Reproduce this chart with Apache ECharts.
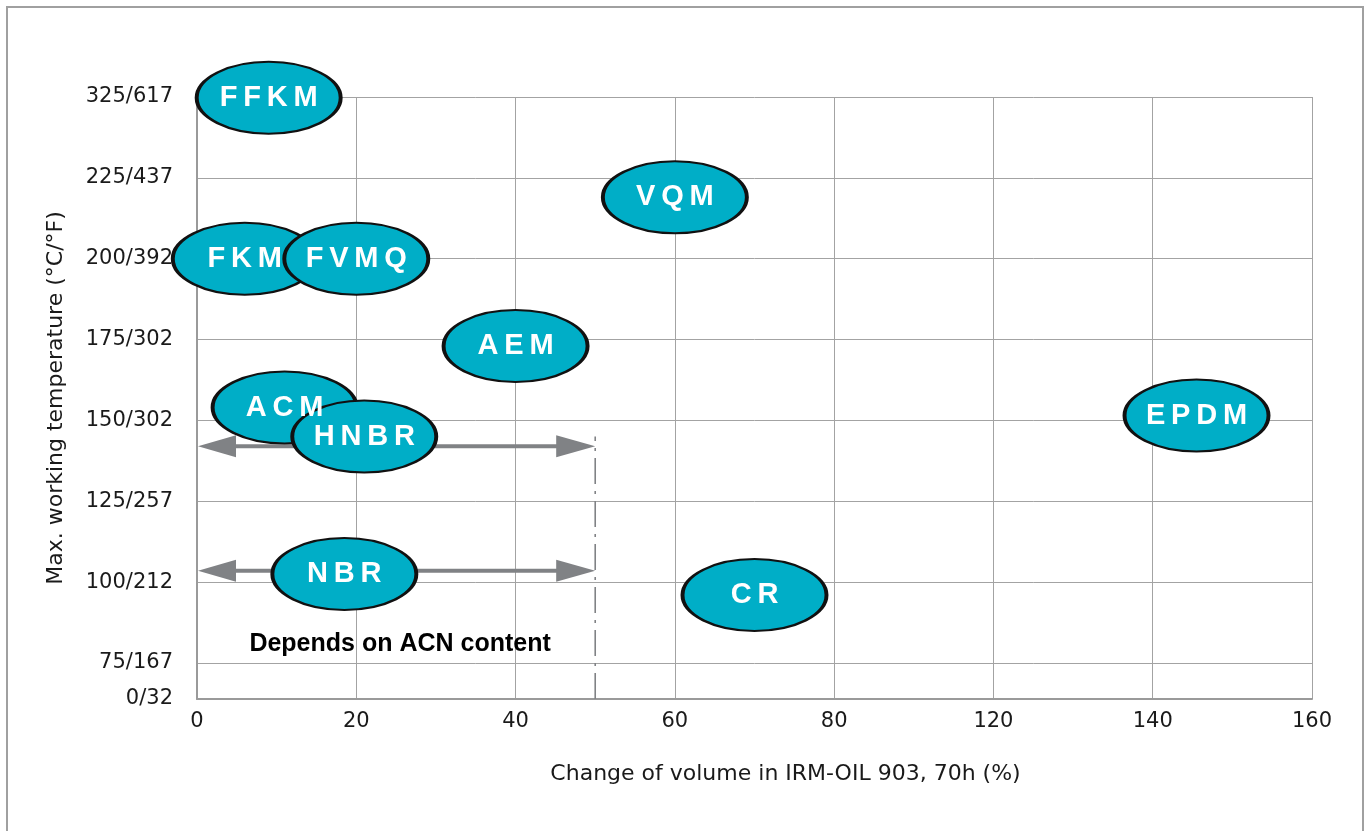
<!DOCTYPE html>
<html><head><meta charset="utf-8">
<script src="https://cdn.jsdelivr.net/npm/echarts@6/dist/echarts.min.js"></script>
<style>html,body{margin:0;padding:0;background:#fff}#c{width:1370px;height:831px}</style>
</head><body><div id="c"></div>
<script>
// ---- data ----
const xTickValues = [0, 20, 40, 60, 80, 120, 140, 160];
const xTickLabels = ['0', '20', '40', '60', '80', '120', '140', '160'];
const yTickValues = [0, 75, 100, 125, 150, 175, 200, 225, 325];
const yTickLabels = ['0/32', '75/167', '100/212', '125/257', '150/302', '175/302', '200/392', '225/437', '325/617'];

const materials    = ['FFKM', 'VQM', 'FKM', 'FVMQ', 'AEM', 'ACM', 'HNBR', 'NBR', 'CR', 'EPDM'];
const volumeChange = [9, 60, 6, 20, 40, 11, 21, 18.5, 70, 145.5];
const maxTemp      = [324, 219, 200, 200, 173, 154, 145, 102.5, 96, 151.5];

const rangeFrom = [0, 0];
const rangeTo   = [50, 50];
const rangeTemp = [142, 103.5];
const acnLimitVolume = 50;
const acnLimitTop = 145;
const noteText = 'Depends on ACN content';
const noteVolume = 25.5;
const noteTemp = 81;
const xAxisTitle = 'Change of volume in IRM-OIL 903, 70h (%)';
const yAxisTitle = 'Max. working temperature (°C/°F)';

// ---- broken (piecewise) scales ----
const Y_MIN = -0.445;
const xPos = xTickValues.map((_, i) => i);
const yPos = yTickValues.map((_, i) => i === 0 ? Y_MIN : i - 1);
function piece(v, vals, pos) {
  for (let i = 0; i < vals.length - 1; i++) {
    if (v <= vals[i + 1] || i === vals.length - 2) {
      return pos[i] + (v - vals[i]) / (vals[i + 1] - vals[i]) * (pos[i + 1] - pos[i]);
    }
  }
  return pos[pos.length - 1];
}
const toX = v => piece(v, xTickValues, xPos);
const toY = v => piece(v, yTickValues, yPos);
function lab(v, pos, labels) {
  const i = pos.findIndex(p => Math.abs(p - v) < 1e-6);
  return i >= 0 ? labels[i] : '';
}

const FONT = "'Liberation Sans', Arial, sans-serif";
const TFONT = "'DejaVu Sans', 'Liberation Sans', sans-serif";
const GRID = '#a3a3a3';
const AXIS = '#9a9a9a';
const ARROW = '#808285';

const chart = echarts.init(document.getElementById('c'), null, {renderer: 'canvas'});
chart.setOption({
  animation: false,
  backgroundColor: '#fff',
  textStyle: {fontFamily: TFONT},
  graphic: [{
    type: 'rect', silent: true, z: 0,
    shape: {x: 7, y: 7, width: 1356, height: 900},
    style: {fill: 'none', stroke: '#a0a0a0', lineWidth: 2}
  }],
  grid: {left: 197, right: 58, top: 97, bottom: 132, containLabel: false},
  xAxis: {
    type: 'value', min: 0, max: xPos.length - 1, interval: 1,
    name: xAxisTitle, nameLocation: 'middle', nameGap: 64,
    nameTextStyle: {fontSize: 22, color: '#1a1a1a', fontFamily: TFONT, padding: [0, 0, 0, 62]},
    axisLine: {show: true, onZero: false, lineStyle: {color: AXIS, width: 2}},
    axisTick: {show: false},
    axisLabel: {margin: 12, fontSize: 21, color: '#1a1a1a', fontFamily: TFONT,
      formatter: v => lab(v, xPos, xTickLabels)},
    splitLine: {show: true, lineStyle: {color: GRID, width: 1}}
  },
  yAxis: {
    type: 'value', min: Y_MIN, max: yPos[yPos.length - 1], splitNumber: 7,
    name: yAxisTitle, nameLocation: 'middle', nameGap: 130,
    nameTextStyle: {fontSize: 22, color: '#1a1a1a', fontFamily: TFONT},
    axisLine: {show: true, onZero: false, lineStyle: {color: AXIS, width: 2}},
    axisTick: {show: false},
    axisLabel: {margin: 24, fontSize: 21, color: '#1a1a1a', fontFamily: TFONT, showMinLabel: true,
      formatter: v => lab(v, yPos, yTickLabels)},
    splitLine: {show: true, lineStyle: {color: GRID, width: 1}}
  },
  series: [
    {
      type: 'custom', name: 'ranges', z: 2, silent: true,
      encode: {x: [0, 1], y: 2},
      data: rangeTemp.map((t, i) => [toX(rangeFrom[i]), toX(rangeTo[i]), toY(t)]),
      renderItem: (params, api) => {
        const p0 = api.coord([api.value(0), api.value(2)]);
        const p1 = api.coord([api.value(1), api.value(2)]);
        const L = 39, H = 11;
        return {type: 'group', children: [
          {type: 'line', shape: {x1: p0[0] + L - 2, y1: p0[1], x2: p1[0] - L + 2, y2: p1[1]},
            style: {stroke: ARROW, lineWidth: 4}},
          {type: 'polygon', shape: {points: [[p0[0] + 1, p0[1]], [p0[0] + L, p0[1] - H], [p0[0] + L, p0[1] + H]]},
            style: {fill: ARROW}},
          {type: 'polygon', shape: {points: [[p1[0], p1[1]], [p1[0] - L, p1[1] - H], [p1[0] - L, p1[1] + H]]},
            style: {fill: ARROW}}
        ]};
      }
    },
    {
      type: 'custom', name: 'limit', z: 2, silent: true,
      encode: {x: 0, y: [1, 2]},
      data: [[toX(acnLimitVolume), Y_MIN, toY(acnLimitTop)]],
      renderItem: (params, api) => {
        const a = api.coord([api.value(0), api.value(1)]);
        const b = api.coord([api.value(0), api.value(2)]);
        return {type: 'line', shape: {x1: a[0], y1: a[1], x2: b[0], y2: b[1]},
          style: {stroke: ARROW, lineWidth: 1.6, lineDash: [26, 7, 3, 7]}};
      }
    },
    {
      type: 'custom', name: 'note', z: 2, silent: true,
      encode: {x: 0, y: 1},
      data: [[toX(noteVolume), toY(noteTemp)]],
      renderItem: (params, api) => {
        const p = api.coord([api.value(0), api.value(1)]);
        return {type: 'text', x: p[0], y: p[1],
          style: {text: noteText, fill: '#000', fontSize: 25, fontWeight: 'bold', fontFamily: FONT,
            align: 'center', verticalAlign: 'middle'}};
      }
    },
    {
      type: 'scatter', name: 'materials', z: 5, silent: true,
      symbol: 'path://M0 50A50 50 0 1 1 100 50A50 50 0 1 1 0 50Z',
      symbolSize: [144, 72],
      itemStyle: {color: '#00AEC7', borderColor: '#111', borderWidth: 2.8, opacity: 1},
      label: {show: true, position: 'inside', color: '#fff', fontSize: 29, fontWeight: 'bold', fontFamily: FONT,
        formatter: p => p.name.split('').join('\u2009')},
      emphasis: {disabled: true},
      data: materials.map((n, i) => ({name: n, value: [toX(volumeChange[i]), toY(maxTemp[i])]}))
    }
  ]
});
</script></body></html>
